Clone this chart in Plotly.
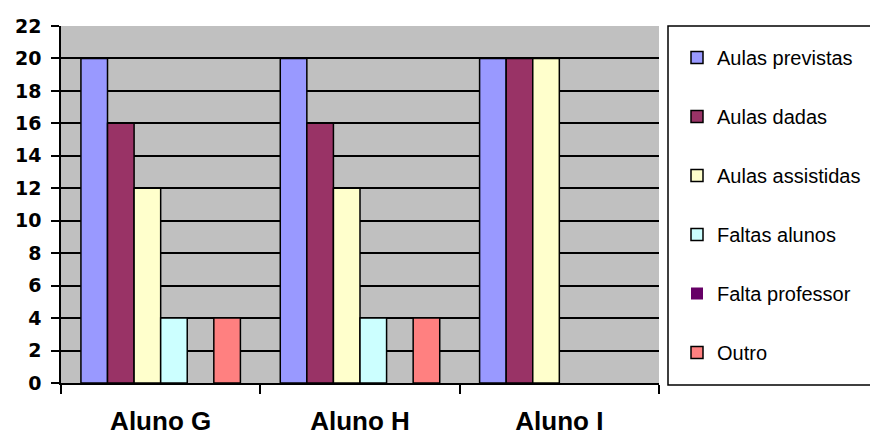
import plotly.graph_objects as go

categories = ["Aluno G", "Aluno H", "Aluno I"]
series_names = ["Aulas previstas", "Aulas dadas", "Aulas assistidas", "Faltas alunos", "Falta professor", "Outro"]
aulas_previstas = [20, 20, 20]
aulas_dadas = [16, 16, 20]
aulas_assistidas = [12, 12, 20]
faltas_alunos = [4, 4, 0]
falta_professor = [0, 0, 0]
outro = [4, 4, 0]
y_ticks = list(range(0, 23, 2))

series_values = [aulas_previstas, aulas_dadas, aulas_assistidas, faltas_alunos, falta_professor, outro]
colors = ["#9999FF", "#993366", "#FFFFCC", "#CCFFFF", "#660066", "#FF8080"]

W, H = 870, 439
L, R, T, B = 61, 211, 26, 56
pw = W - L - R
ph = H - T - B

fig = go.Figure()
for i, (name, vals, c) in enumerate(zip(series_names, series_values, colors)):
    fig.add_trace(go.Bar(
        x=categories, y=vals, name=name,
        marker=dict(color=c, line=dict(color="black", width=[1.5 if v else 0 for v in vals])),
        legendgroup=f"g{i}",
    ))

fig.update_layout(
    width=W, height=H,
    margin=dict(l=L, r=R, t=T, b=B, autoexpand=False),
    paper_bgcolor="white",
    plot_bgcolor="#C0C0C0",
    barmode="group",
    bargap=0.2,
    bargroupgap=0.0,
    showlegend=True,
    legend=dict(
        x=(677 - L) / pw, y=1 - (38 - T) / ph,
        xanchor="left", yanchor="top",
        bgcolor="rgba(0,0,0,0)",
        font=dict(family="Liberation Sans, Arial, sans-serif", size=20, color="black"),
        tracegroupgap=30,
        traceorder="grouped",
        itemclick=False,
    ),
    xaxis=dict(
        showline=True, linecolor="black", linewidth=1.5,
        ticks="outside", tickson="boundaries", ticklen=9, tickcolor="black", tickwidth=1.5,
        tickfont=dict(family="Liberation Sans, Arial, sans-serif", size=26, color="black", weight="bold"),
        showgrid=False,
        ticklabelstandoff=14,
    ),
    yaxis=dict(
        range=[0, 22], tickvals=y_ticks, ticktext=[f"<b>{v}</b>" for v in y_ticks],
        showline=True, linecolor="black", linewidth=1.5,
        ticks="outside", ticklen=8, tickcolor="black", tickwidth=1.5,
        showgrid=True, gridcolor="black", gridwidth=1.5,
        tickfont=dict(family="DejaVu Sans, Verdana, sans-serif", size=19, color="black"),
        zeroline=False,
        ticklabelstandoff=6,
    ),
    shapes=[dict(
        type="rect", xref="paper", yref="paper",
        x0=(668 - L) / pw, x1=(880 - L) / pw,
        y0=1 - (385 - T) / ph,
        y1=1,
        line=dict(color="black", width=1.5), fillcolor="rgba(0,0,0,0)", layer="above",
    )],
)

fig.write_html("out.html", config={"displayModeBar": False},
               post_script="document.body.style.margin='0';document.body.style.overflow='hidden';")
